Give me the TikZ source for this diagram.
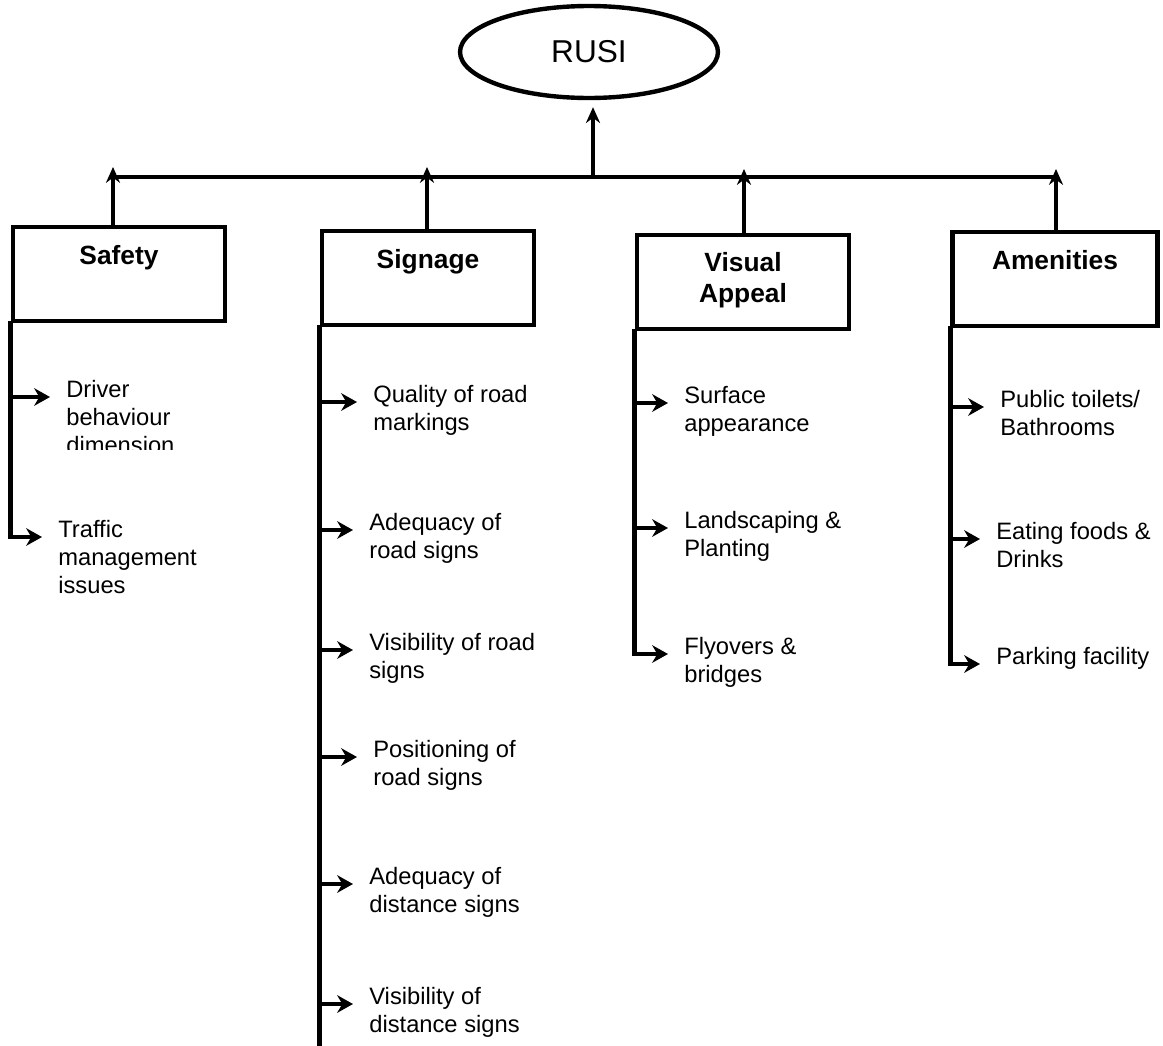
\documentclass[tikz,border=0pt]{standalone}
\usepackage{fontspec}
\setmainfont{Liberation Sans}
\usetikzlibrary{shapes.geometric,arrows.meta,positioning}

\begin{document}
\begin{tikzpicture}[x=0.02cm,y=-0.02cm,
  box/.style={draw,line width=2.5pt,minimum width=4.25cm,minimum height=1.88cm,inner sep=0pt},
  boxlabel/.style={font=\fontsize{15}{17.5}\selectfont\bfseries,align=center,inner sep=0pt},
  item/.style={font=\fontsize{13.5}{16}\selectfont,anchor=base west,inner xsep=0.32cm,inner ysep=0pt},
  leaf/.style={line width=2.5pt,-{Stealth[length=9pt,width=10pt]}},
  trunk/.style={line width=2.5pt,line cap=rect},
  uparrow/.style={line width=1.8pt,-{Stealth[length=9pt,width=8pt]}}]
\newcommand\leafitem[5]{
\node[item] (#1) at (#3,#4) {\begin{tabular}[t]{@{}l@{}}#5\end{tabular}};
\draw[leaf] (#1.base west -| #2.south west) -- (#1.base west);
}
\useasboundingbox (0,0) rectangle (1163,1045);
% root
\node[draw,ellipse,line width=2.5pt,minimum width=5.16cm,minimum height=1.84cm,font=\fontsize{18}{20}\selectfont] (rusi) at (589,52) {RUSI};
% dimension boxes
\node[box] (safety) at (119,274) {};
\node[box] (signage) at (428,278) {};
\node[box] (visual) at (743,282) {};
\node[box,minimum width=4.1cm] (amen) at (1055,279) {};
\node[boxlabel,below=0.4cm of safety.north] (safetylbl) {Safety};
\node[boxlabel,below=0.4cm of signage.north] (signagelbl) {Signage};
\node[boxlabel,below=0.38cm of visual.north] (visuallbl) {Visual\\Appeal};
\node[boxlabel,below=0.4cm of amen.north] (amenlbl) {Amenities};
% bar and arrows up
\coordinate (barmid) at (593,177);
\coordinate (upS) at (113,167);
\coordinate (upG) at (427,167);
\coordinate (upV) at (744,169);
\coordinate (upA) at (1056,169);
\draw[line width=2.6pt] (upS |- barmid) -- (upA |- barmid);
\draw[uparrow,line width=2.4pt,shorten >=0.14cm] (barmid) -- (barmid |- rusi.south);
\draw[uparrow] (upS |- safety.north) -- (upS);
\draw[uparrow] (upG |- signage.north) -- (upG);
\draw[uparrow] (upV |- visual.north) -- (upV);
\draw[uparrow] (upA |- amen.north) -- (upA);
% safety
\begin{scope}
\clip (0,360) rectangle (320,449);
\leafitem{driver}{safety}{50}{397}{Driver\\behaviour\\dimension}
\end{scope}
\leafitem{traffic}{safety}{42}{537}{Traffic\\management\\issues}
\draw[trunk] (safety.south west) -- (safety.south west |- traffic.base west);
% signage
\leafitem{quality}{signage}{357}{402}{Quality of road\\markings}
\leafitem{adeqroad}{signage}{353}{530}{Adequacy of\\road signs}
\leafitem{visroad}{signage}{353}{650}{Visibility of road\\signs}
\leafitem{position}{signage}{357}{757}{Positioning of\\road signs}
\leafitem{adeqdist}{signage}{353}{884}{Adequacy of\\distance signs}
\leafitem{visdist}{signage}{353}{1004}{Visibility of\\distance signs}
\coordinate (sigend) at (0,1045);
\draw[trunk] (signage.south west) -- (signage.south west |- sigend);
% visual appeal
\leafitem{surface}{visual}{668}{403}{Surface\\appearance}
\leafitem{landsc}{visual}{668}{528}{Landscaping \&\\Planting}
\leafitem{flyover}{visual}{668}{654}{Flyovers \&\\bridges}
\draw[trunk] (visual.south west) -- (visual.south west |- flyover.base west);
% amenities
\leafitem{toilets}{amen}{984}{407}{Public toilets/\\Bathrooms}
\leafitem{eating}{amen}{980}{539}{Eating foods \&\\Drinks}
\leafitem{parking}{amen}{980}{664}{Parking facility}
\draw[trunk] (amen.south west) -- (amen.south west |- parking.base west);
\end{tikzpicture}
\end{document}
